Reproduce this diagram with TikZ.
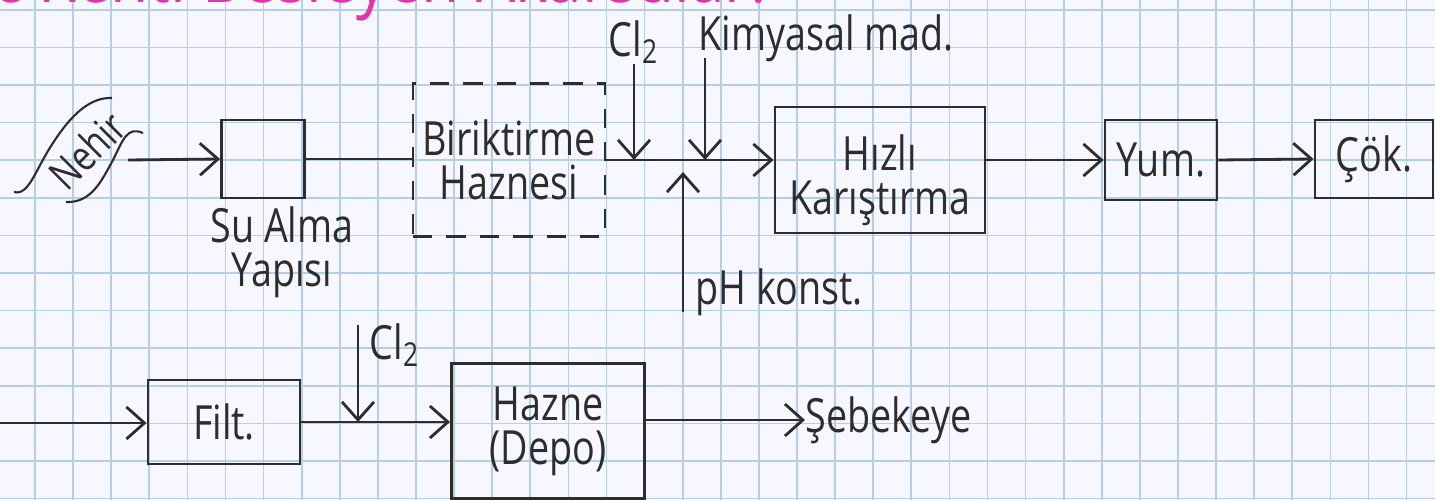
\documentclass[tikz,border=0pt]{standalone}
\usepackage{fontspec}
\setmainfont{Open Sans}[FakeStretch=0.8]
\usetikzlibrary{arrows.meta}
\definecolor{ink}{RGB}{45,45,45}
\definecolor{gridblue}{RGB}{180,206,232}
\definecolor{pinkink}{RGB}{228,52,170}
\tikzset{
  box/.style={draw=ink, line width=0.8pt, align=center, inner sep=0pt, text=ink},
  lbl/.style={text=ink, inner sep=0pt},
  pipe/.style={draw=ink, line width=0.8pt},
  flow/.style={pipe, -{Straight Barb[length=1.8mm,width=3.2mm]}},
  gridline/.style={draw=gridblue, line width=0.5pt},
  banner/.style={draw=ink, line width=0.6pt}
}
\begin{document}
\begin{tikzpicture}[x=0.01cm, y=-0.01cm, font=\fontsize{13.4}{12.5}\selectfont]
\useasboundingbox (0,0) rectangle (1435,500);
\clip (0,0) rectangle (1435,500);
\fill[white!97!blue] (0,0) rectangle (1435,500);
\foreach \k in {0,...,38}
  \draw[gridline] ({-3.1+38.1*\k},0) -- ++(0,500);
\foreach \k in {0,...,13}
  \draw[gridline] (0,{9.8+37.6*\k}) -- ++(1435,0);

\node[pinkink, anchor=base west, inner sep=0pt, font=\fontsize{22}{24}\selectfont] (baslik) at (-8,2) {c Kenti Besleyen Akarsular:};

% ust hat
\node[lbl, rotate=45, font=\fontsize{12}{12}\selectfont] (nehir) at (87,150) {Nehir};
\draw[banner] (14,192) .. controls (29,196) and (35,170) .. (53,143) .. controls (71,115) and (90,97) .. (112,98);
\draw[banner] (66,202) .. controls (91,203) and (101,182) .. (113,160) .. controls (123,140) and (127,126) .. (143,133);
\coordinate (nehirout) at (128,160);

\node[box, minimum width=0.83cm, minimum height=0.78cm] (sualma) at (263,159) {};
\node[lbl, align=center] (sualmalbl) at (282,252) {Su Alma\\Yapısı};
\node[box, dash pattern=on 5.5pt off 4pt, minimum width=1.92cm, minimum height=1.53cm] (birik) at (509,160) {Biriktirme\\Haznesi};
\node[box, minimum width=2.10cm, minimum height=1.26cm] (hizli) at (880,170) {\rule{0pt}{16pt}Hızlı\\Karıştırma};
\node[box, minimum width=1.12cm, minimum height=0.80cm] (yum) at (1161,160) {Yum.};
\node[box, minimum width=1.18cm, minimum height=0.78cm] (cok) at (1374,159) {Çök.};

\node[lbl] (cla) at (634,42) {Cl\textsubscript{2}};
\node[lbl, anchor=west] (kimya) at (698,38) {Kimyasal mad.};
\node[lbl, anchor=west] (ph) at (695,292) {pH konst.};
\coordinate (kin) at (705,58);
\coordinate (phin) at (683,312);

\draw[flow] (nehirout) -- (sualma.west);
\draw[pipe] (sualma.east) -- (sualma.east -| birik.west);
\draw[flow] (birik.east) -- (birik.east -| hizli.west);
\draw[flow] (cla.south) -- (cla.south |- birik.east);
\draw[flow] (kin) -- (kin |- birik.east);
\draw[flow] (phin) -- ++(0,-140);
\draw[flow] (hizli.east |- yum.west) -- (yum.west);
\draw[flow] (yum.east) -- (cok.west);

% alt hat
\node[box, minimum width=1.52cm, minimum height=0.84cm] (filt) at (224,422) {Filt.};
\node[box, minimum width=1.93cm, minimum height=1.35cm] (hazne) at (548,431) {Hazne\\(Depo)};
\node[lbl, anchor=west] (sebeke) at (805,420) {Şebekeye};
\node[lbl] (clb) at (395,345) {Cl\textsubscript{2}};
\coordinate (giris) at (0,423);
\coordinate (clbin) at (358,325);

\draw[flow] (giris) -- (giris -| filt.west);
\draw[flow] (filt.east) -- (filt.east -| hazne.west);
\draw[flow] (clbin) -- (clbin |- filt.east);
\draw[flow] (hazne.east |- sebeke.west) -- (sebeke.west);
\end{tikzpicture}
\end{document}
